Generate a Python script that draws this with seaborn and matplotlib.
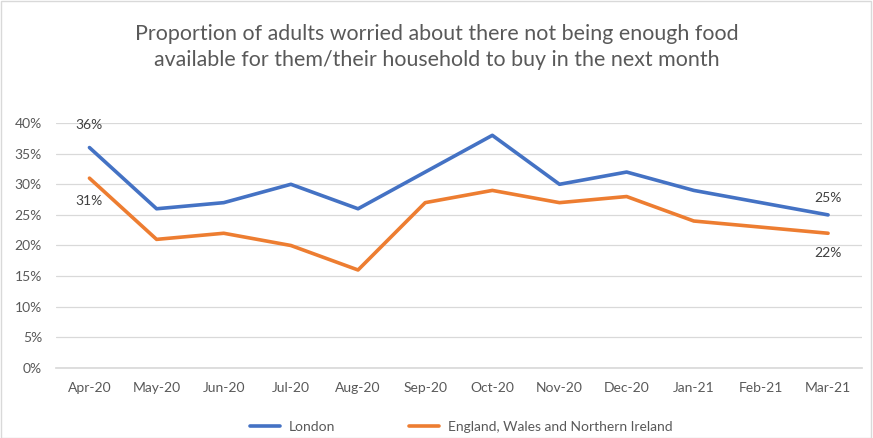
import matplotlib
matplotlib.use("Agg")
import matplotlib.pyplot as plt
import seaborn as sns
import pandas as pd
from matplotlib.patches import Rectangle
from matplotlib.lines import Line2D

months = ["Apr-20", "May-20", "Jun-20", "Jul-20", "Aug-20", "Sep-20",
          "Oct-20", "Nov-20", "Dec-20", "Jan-21", "Feb-21", "Mar-21"]
london = [36, 26, 27, 30, 26, 32, 38, 30, 32, 29, 27, 25]
ewni = [31, 21, 22, 20, 16, 27, 29, 27, 28, 24, 23, 22]
series_names = ["London", "England, Wales and Northern Ireland"]
colors = ["#4472C4", "#ED7D31"]

sns.set_theme(style="white")
plt.rcParams['font.family'] = ['Lato', 'DejaVu Sans']

df = pd.DataFrame({
    "month": months * 2,
    "value": [v / 100 for v in london] + [v / 100 for v in ewni],
    "series": [series_names[0]] * len(months) + [series_names[1]] * len(months),
})

fig = plt.figure(figsize=(8.73, 4.38), dpi=100)
ax = fig.add_axes([0.064, 0.16, 0.923, 0.559])
sns.lineplot(data=df, x="month", y="value", hue="series", palette=colors,
             linewidth=2.6, ax=ax, sort=False, legend=False)
ax.set_xlim(-0.5, len(months) - 0.5)
ax.set_ylim(0, 0.40)
ax.set_yticks([i / 100 for i in range(0, 41, 5)])
ax.set_yticklabels([f"{i}%" for i in range(0, 41, 5)])
ax.yaxis.grid(True, color="#D9D9D9", linewidth=0.9)
ax.set_axisbelow(True)
for s in ["top", "right", "left"]:
    ax.spines[s].set_visible(False)
ax.spines["bottom"].set_color("#D9D9D9")
ax.tick_params(axis="both", colors="#595959", labelsize=10, length=0, pad=10)
ax.set_xlabel("")
ax.set_ylabel("")

lab_kw = dict(fontsize=10, color="#404040", ha="center")
ax.annotate(f"{london[0]}%", (0, london[0] / 100), xytext=(0, 12), textcoords="offset points", va="bottom", **lab_kw)
ax.annotate(f"{ewni[0]}%", (0, ewni[0] / 100), xytext=(0, -12), textcoords="offset points", va="top", **lab_kw)
ax.annotate(f"{london[-1]}%", (11, london[-1] / 100), xytext=(0, 8), textcoords="offset points", va="bottom", **lab_kw)
ax.annotate(f"{ewni[-1]}%", (11, ewni[-1] / 100), xytext=(0, -10), textcoords="offset points", va="top", **lab_kw)

fig.text(0.5, 0.893, "Proportion of adults worried about there not being enough food\navailable for them/their household to buy in the next month",
         ha="center", va="center", fontsize=15.4, color="#595959", linespacing=1.4)

handles = [Line2D([0], [0], color=c, lw=2.6) for c in colors]
fig.legend(handles, series_names, loc="center", bbox_to_anchor=(0.528, 0.025), ncol=2,
           frameon=False, fontsize=10, labelcolor="#595959", handlelength=2.2,
           handletextpad=0.6, columnspacing=5.3)

fig.patches.append(Rectangle((0.001, 0.001), 0.997, 0.997, transform=fig.transFigure,
                             fill=False, edgecolor="#D9D9D9", linewidth=1))
fig.savefig("out.png", dpi=100)
